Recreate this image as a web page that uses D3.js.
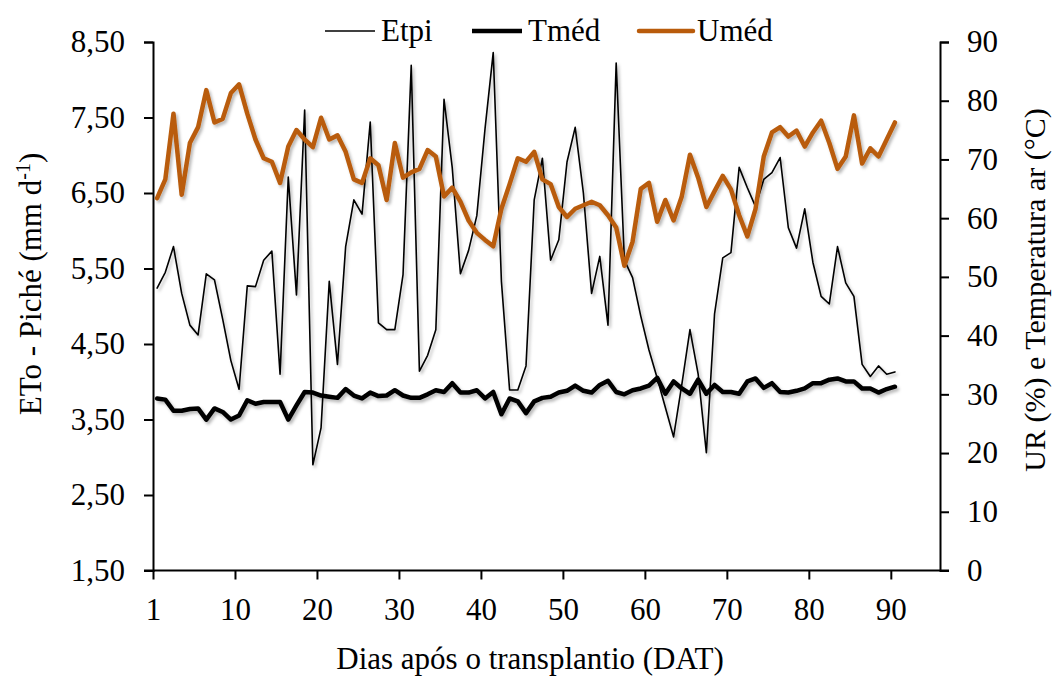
<!DOCTYPE html>
<html>
<head>
<meta charset="utf-8">
<script src="https://cdn.jsdelivr.net/npm/d3@7"></script>
<style>
    body { margin: 0; background: #fff; }
    svg text { font-family: "Liberation Serif", "Times New Roman", Times, "DejaVu Serif", serif !important; fill: #000; }
</style>
</head>
<body>
<svg id="chart"></svg>
<script>
// Data, one value per day after transplanting
let etpi = [5.24, 5.45, 5.79, 5.17, 4.75, 4.62, 5.43, 5.35, 4.83, 4.28,
            3.90, 5.27, 5.26, 5.61, 5.73, 4.10, 6.71, 5.15, 7.60, 2.90,
            3.39, 5.33, 4.23, 5.79, 6.41, 6.22, 7.44, 4.78, 4.69, 4.69,
            5.42, 8.19, 4.14, 4.35, 4.69, 7.74, 6.84, 5.43, 5.74, 6.20,
            7.35, 8.36, 5.33, 3.89, 3.89, 4.21, 6.41, 6.96, 5.61, 5.88,
            6.91, 7.37, 6.50, 5.17, 5.66, 4.75, 8.22, 5.61, 5.38, 4.87,
            4.42, 4.05, 3.66, 3.27, 3.96, 4.69, 4.10, 3.06, 4.90, 5.64,
            5.71, 6.84, 6.57, 6.32, 6.68, 6.77, 6.97, 6.04, 5.77, 6.29,
            5.58, 5.13, 5.03, 5.79, 5.31, 5.13, 4.23, 4.07, 4.21, 4.10, 4.13];
let tmed = [29.3, 29.1, 27.2, 27.2, 27.5, 27.6, 25.7, 27.6, 27.0, 25.7,
            26.4, 29.0, 28.4, 28.7, 28.7, 28.7, 25.7, 28.1, 30.4, 30.3,
            29.8, 29.6, 29.4, 30.9, 29.8, 29.3, 30.3, 29.7, 29.8, 30.7,
            29.8, 29.4, 29.4, 30.0, 30.7, 30.4, 31.9, 30.3, 30.3, 30.7,
            29.3, 30.4, 26.6, 29.3, 28.8, 26.8, 28.8, 29.4, 29.6, 30.3,
            30.6, 31.5, 30.6, 30.3, 31.6, 32.3, 30.4, 30.0, 30.7, 31.0,
            31.5, 32.8, 30.1, 32.2, 31.0, 30.1, 32.5, 30.1, 31.6, 30.4,
            30.4, 30.1, 32.2, 32.7, 31.1, 31.9, 30.4, 30.3, 30.6, 31.0,
            31.9, 31.9, 32.5, 32.7, 32.2, 32.2, 31.0, 31.0, 30.3, 30.9, 31.3];
let umed = [63.4, 66.6, 77.8, 64.0, 72.8, 75.5, 81.8, 76.3, 76.9, 81.3,
            82.8, 77.8, 73.4, 70.2, 69.6, 66.0, 72.2, 75.0, 73.4, 72.1,
            77.1, 73.4, 74.1, 71.3, 66.6, 66.0, 70.2, 69.0, 63.1, 72.8,
            66.9, 67.8, 68.4, 71.6, 70.5, 63.7, 65.2, 62.8, 59.6, 57.5,
            56.3, 55.2, 61.6, 65.8, 70.2, 69.6, 71.3, 66.6, 65.8, 61.9,
            60.2, 61.6, 62.2, 62.8, 62.2, 60.5, 58.4, 51.9, 56.0, 65.0,
            66.0, 59.4, 63.1, 59.6, 63.7, 70.8, 66.9, 61.9, 64.6, 67.2,
            64.9, 60.5, 56.9, 61.6, 70.5, 74.6, 75.5, 73.9, 74.9, 72.2,
            74.6, 76.6, 72.8, 68.4, 70.5, 77.5, 69.3, 71.9, 70.5, 73.4, 76.3];
let dias = etpi.map((v, i) => i + 1);
let xTickLabels = ["1", "10", "20", "30", "40", "50", "60", "70", "80", "90"];
let leftTicks = [1.5, 2.5, 3.5, 4.5, 5.5, 6.5, 7.5, 8.5];
let rightTicks = [0, 10, 20, 30, 40, 50, 60, 70, 80, 90];

let width = 1054, height = 678;
let margin = {left: 153, right: 940, top: 42, bottom: 570.5};
let fontSize = 31;
let serif = "'Liberation Serif', 'Times New Roman', Times, 'DejaVu Serif', serif";

let svg = d3.select("#chart")
    .attr("width", width)
    .attr("height", height)
    .attr("font-family", serif);

// Soft shadow under the series, like the office chart effect
let filt = svg.append("defs").append("filter")
    .attr("id", "shadow")
    .attr("x", "-5%").attr("y", "-5%")
    .attr("width", "110%").attr("height", "120%");
filt.append("feDropShadow")
    .attr("dx", 2).attr("dy", 2.5)
    .attr("stdDeviation", 1.6)
    .attr("flood-color", "#000")
    .attr("flood-opacity", 0.28);

// Category axis: 96 slots, points sit in slot centres, ticks on slot edges
let x = d3.scaleLinear().domain([0.5, 96.5]).range([margin.left, margin.right]);
let yL = d3.scaleLinear().domain([1.5, 8.5]).range([margin.bottom, margin.top]);
let yR = d3.scaleLinear().domain([0, 90]).range([margin.bottom, margin.top]);
let xTickPos = xTickLabels.map((d, i) => 0.5 + 10 * i);

let comma = d => d3.format(".2f")(d).replace(".", ",");

// Left axis
let gL = svg.append("g")
    .attr("transform", "translate(" + margin.left + ",0)")
    .call(d3.axisLeft(yL).tickValues(leftTicks).tickFormat(comma).tickSizeOuter(0).tickSize(9).tickPadding(19));
// Right axis
let gR = svg.append("g")
    .attr("transform", "translate(" + margin.right + ",0)")
    .call(d3.axisRight(yR).tickValues(rightTicks).tickSizeOuter(0).tickSize(9).tickPadding(18));
// Bottom axis
let gX = svg.append("g")
    .attr("transform", "translate(0," + margin.bottom + ")")
    .call(d3.axisBottom(x).tickValues(xTickPos).tickFormat((d, i) => xTickLabels[i]).tickSizeOuter(0).tickSize(9).tickPadding(18));

[gL, gR, gX].forEach(g => {
    g.attr("font-family", serif).attr("font-size", fontSize);
    g.selectAll("path, line").attr("stroke", "#000").attr("stroke-width", 2);
    g.selectAll("text").attr("fill", "#000");
});
gX.select(".domain").attr("d", "M" + (margin.left - 9) + ",0H" + (margin.right + 9));

// Series lines
let lineL = d3.line().x((d, i) => x(dias[i])).y(d => yL(d));
let lineR = d3.line().x((d, i) => x(dias[i])).y(d => yR(d));
let series = [
    {name: "Etpi", values: etpi, line: lineL, color: "#000", width: 1.6},
    {name: "Tméd", values: tmed, line: lineR, color: "#000", width: 4.5},
    {name: "Uméd", values: umed, line: lineR, color: "#B95B0B", width: 4.5}
];
svg.append("g")
    .attr("filter", "url(#shadow)")
    .selectAll(".serie")
    .data(series)
    .join("path")
        .attr("class", "serie")
        .attr("d", d => d.line(d.values))
        .attr("fill", "none")
        .attr("stroke", d => d.color)
        .attr("stroke-width", d => d.width)
        .attr("stroke-linejoin", "round")
        .attr("stroke-linecap", "round");

// Legend across the top
let legendX = [325, 472, 639];
let leg = svg.append("g").selectAll(".leg")
    .data(series)
    .join("g")
        .attr("class", "leg")
        .attr("transform", (d, i) => "translate(" + legendX[i] + ",31)");
leg.append("line")
    .attr("x1", 0).attr("x2", (d, i) => i == 2 ? 54 : 50)
    .attr("y1", 0).attr("y2", 0)
    .attr("stroke", d => d.color)
    .attr("stroke-width", d => d.width)
    .attr("stroke-linecap", (d, i) => i == 2 ? "round" : "butt");
leg.append("text")
    .attr("x", (d, i) => i == 2 ? 58 : 56)
    .attr("y", 0)
    .attr("dy", "0.33em")
    .attr("font-size", fontSize)
    .text(d => d.name);

// Axis titles
svg.append("text")
    .attr("x", 530)
    .attr("y", 669)
    .attr("text-anchor", "middle")
    .attr("font-size", fontSize)
    .text("Dias após o transplantio (DAT)");

let tL = svg.append("text")
    .attr("transform", "translate(41,284) rotate(-90)")
    .attr("text-anchor", "middle")
    .attr("font-size", fontSize);
tL.append("tspan").text("ETo - Piché (mm d");
tL.append("tspan").attr("baseline-shift", "super").attr("font-size", 20).text("-1");
tL.append("tspan").text(")");

svg.append("text")
    .attr("transform", "translate(1045,290) rotate(-90)")
    .attr("text-anchor", "middle")
    .attr("font-size", 30)
    .text("UR (%) e Temperatura ar (°C)");
</script>
</body>
</html>
